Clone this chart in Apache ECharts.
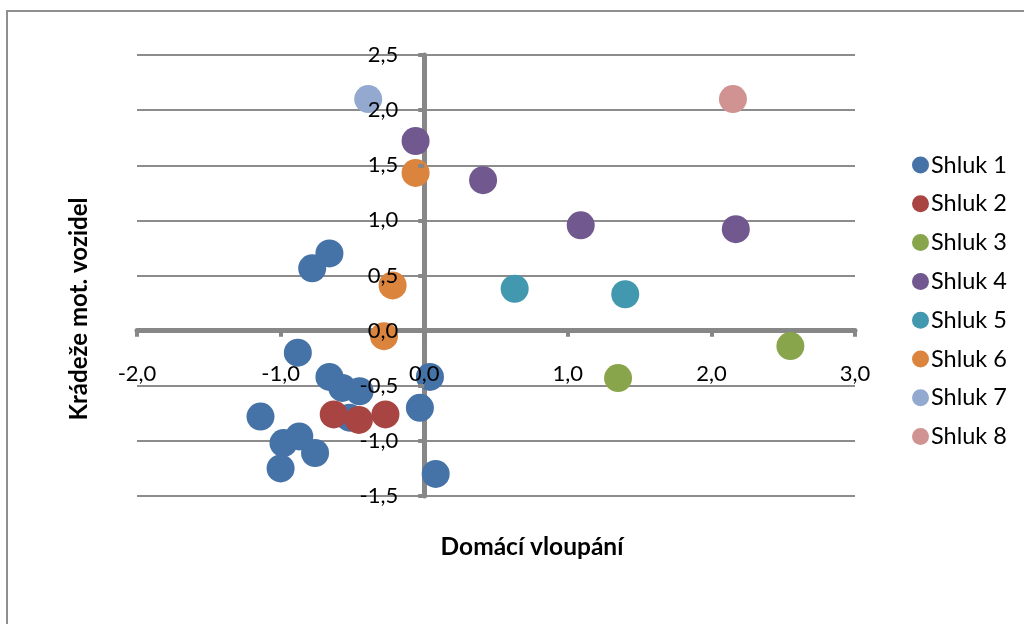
<!DOCTYPE html>
<html>
<head>
<meta charset="utf-8">
<script src="https://cdn.jsdelivr.net/npm/echarts@6/dist/echarts.min.js"></script>
<style>
  html, body { margin: 0; padding: 0; background: #ffffff; }
  #chart { width: 1024px; height: 624px; }
</style>
</head>
<body>
<div id="chart"></div>
<script>
// Cluster names and colours
const clusterNames = ['Shluk 1', 'Shluk 2', 'Shluk 3', 'Shluk 4', 'Shluk 5', 'Shluk 6', 'Shluk 7', 'Shluk 8'];
const clusterColors = ['#4572A7', '#A84442', '#88A54C', '#71588F', '#4198AF', '#DB843D', '#93A9CF', '#D09392'];

// Standardised scores: x = Domácí vloupání, y = Krádeže mot. vozidel
const shluk1X = [-0.66, -0.78, -0.88, -0.66, -0.57, -0.45, -0.52, 0.04, -0.03, -1.14, -0.98, -0.87, -0.76, -1.00, 0.08];
const shluk1Y = [0.70, 0.565, -0.20, -0.42, -0.52, -0.55, -0.79, -0.42, -0.70, -0.78, -1.02, -0.96, -1.11, -1.25, -1.30];
const shluk2X = [-0.63, -0.455, -0.27];
const shluk2Y = [-0.76, -0.81, -0.76];
const shluk3X = [2.55, 1.35];
const shluk3Y = [-0.14, -0.43];
const shluk4X = [-0.06, 0.41, 1.09, 2.17];
const shluk4Y = [1.72, 1.365, 0.955, 0.92];
const shluk5X = [0.63, 1.40];
const shluk5Y = [0.38, 0.33];
const shluk6X = [-0.06, -0.22, -0.28];
const shluk6Y = [1.43, 0.41, -0.05];
const shluk7X = [-0.39];
const shluk7Y = [2.10];
const shluk8X = [2.15];
const shluk8Y = [2.10];

// Axis ranges
const xMin = -2, xMax = 3, xStep = 1;
const yMin = -1.5, yMax = 2.5, yStep = 0.5;
const xTitle = 'Domácí vloupání';
const yTitle = 'Krádeže mot. vozidel';

const clusterXs = [shluk1X, shluk2X, shluk3X, shluk4X, shluk5X, shluk6X, shluk7X, shluk8X];
const clusterYs = [shluk1Y, shluk2Y, shluk3Y, shluk4Y, shluk5Y, shluk6Y, shluk7Y, shluk8Y];

// Plot area
const GRID = { left: 137, right: 169, top: 55, bottom: 128 };
const plotW = 1024 - GRID.left - GRID.right;
const plotH = 624 - GRID.top - GRID.bottom;
// Distance of the zero lines from the left / bottom edge of the plot,
// used to slide the label axes onto the crossing axes.
const zeroFromLeft = (0 - xMin) / (xMax - xMin) * plotW;
const zeroFromBottom = (0 - yMin) / (yMax - yMin) * plotH;

const FONT = 'Lato, "Open Sans", sans-serif';
const AXIS_GREY = '#878787';
const fmt = v => v.toFixed(1).replace('.', ',');

const series = clusterNames.map((name, i) => ({
  name: name,
  type: 'scatter',
  symbol: 'circle',
  symbolSize: 28,
  xAxisIndex: 0,
  yAxisIndex: 0,
  itemStyle: { color: clusterColors[i], opacity: 1 },
  emphasis: { disabled: true },
  data: clusterXs[i].map((x, k) => [x, clusterYs[i][k]])
}));

const chart = echarts.init(document.getElementById('chart'), null, { renderer: 'canvas' });
chart.setOption({
  animation: false,
  backgroundColor: '#ffffff',
  grid: GRID,
  legend: {
    orient: 'vertical',
    left: 907,
    top: 148,
    icon: 'circle',
    itemWidth: 17,
    itemHeight: 17,
    itemGap: 14.8,
    textStyle: { fontFamily: FONT, fontSize: 23.5, color: '#000000', padding: [0, 0, 0, -3] },
    data: clusterNames
  },
  xAxis: [
    {
      // crossing axis line at y = 0
      type: 'value',
      min: xMin, max: xMax, interval: xStep,
      axisLine: { onZero: true, lineStyle: { color: AXIS_GREY, width: 5 } },
      axisTick: { show: false },
      axisLabel: { show: false },
      splitLine: { show: false }
    },
    {
      // ticks and labels next to the crossing axis, drawn above the markers
      type: 'value',
      position: 'bottom',
      offset: -zeroFromBottom,
      z: 10,
      min: xMin, max: xMax, interval: xStep,
      axisLine: { show: false, onZero: false },
      axisTick: { show: true, length: 6, lineStyle: { color: AXIS_GREY, width: 4 } },
      axisLabel: { formatter: fmt, fontFamily: FONT, fontSize: 22, color: '#000000', margin: 32 },
      splitLine: { show: false }
    }
  ],
  yAxis: [
    {
      type: 'value',
      min: yMin, max: yMax, interval: yStep,
      axisLine: { show: true, onZero: true, lineStyle: { color: AXIS_GREY, width: 5 } },
      axisTick: { show: false },
      axisLabel: { show: false },
      splitLine: { show: true, lineStyle: { color: '#8c8c8c', width: 2 } }
    },
    {
      type: 'value',
      position: 'left',
      offset: -zeroFromLeft,
      z: 10,
      min: yMin, max: yMax, interval: yStep,
      axisLine: { show: false, onZero: false },
      axisTick: { show: true, length: 6, lineStyle: { color: AXIS_GREY, width: 4 } },
      axisLabel: { formatter: fmt, fontFamily: FONT, fontSize: 22, color: '#000000', margin: 26 },
      splitLine: { show: false }
    }
  ],
  graphic: [
    {
      type: 'rect',
      silent: true,
      shape: { x: 7, y: 11, width: 1040, height: 640 },
      style: { fill: 'none', stroke: '#8f8f8f', lineWidth: 2 }
    },
    {
      type: 'text',
      silent: true,
      x: 532, y: 547,
      style: { text: xTitle, font: 'bold 24.5px ' + FONT, fill: '#000000', align: 'center', verticalAlign: 'middle' }
    },
    {
      type: 'text',
      silent: true,
      x: 79, y: 309,
      rotation: Math.PI / 2,
      style: { text: yTitle, font: 'bold 24px ' + FONT, fill: '#000000', align: 'center', verticalAlign: 'middle' }
    }
  ],
  series: series
});
</script>
</body>
</html>
